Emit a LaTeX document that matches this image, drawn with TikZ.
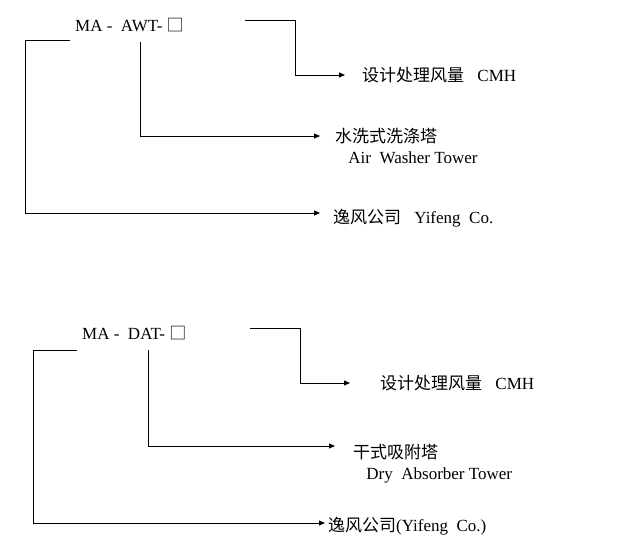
\documentclass[tikz,border=0pt]{standalone}
\usepackage{fontspec}
\setmainfont{Liberation Serif}
\newfontfamily\cjk{Noto Sans CJK SC}
\usetikzlibrary{positioning}
\usetikzlibrary{arrows.meta}
\tikzset{>={Triangle[length=6pt,width=5pt]}}
\tikzstyle{lbl}=[anchor=west,inner sep=0pt,font=\fontsize{17}{21}\selectfont,align=left]
\tikzstyle{conn}=[->,line width=0.8pt]

\begin{document}
\begin{tikzpicture}[x=1pt,y=-1pt]
\useasboundingbox (0,0) rectangle (619,549);

% Top code
\node[lbl] (codeA) at (75,25) {MA -\enspace AWT- {\cjk □}};
\node[lbl] (cmhA) at (362,75) {{\cjk 设计处理风量}（CMH）};
\node[lbl] (towerA) at (335,146) {{\cjk 水洗式洗涤塔}\\（Air\enspace Washer Tower）};
\node[lbl] (coA) at (333,218) {{\cjk 逸风公司}（Yifeng\enspace Co.）};

\draw[conn] (245,20) -- (295,20) -- (295,75) -- (345,75);
\draw[conn] (140,42) -- (140,136) -- (320,136);
\draw[conn] (70,40) -- (25,40) -- (25,213) -- (320,213);

% Bottom code
\node[lbl] (codeB) at (82,333) {MA -\enspace DAT- {\cjk □}};
\node[lbl] (cmhB) at (380,383) {{\cjk 设计处理风量}（CMH）};
\node[lbl] (towerB) at (353,464) {{\cjk 干式吸附塔}\\（Dry\enspace Absorber Tower）};
\node[lbl] (coB) at (328,526) {{\cjk 逸风公司}(Yifeng\enspace Co.)};

\draw[conn] (250,328) -- (300,328) -- (300,383) -- (350,383);
\draw[conn] (148,350) -- (148,446) -- (335,446);
\draw[conn] (77,350) -- (33,350) -- (33,523) -- (325,523);

\end{tikzpicture}
\end{document}
